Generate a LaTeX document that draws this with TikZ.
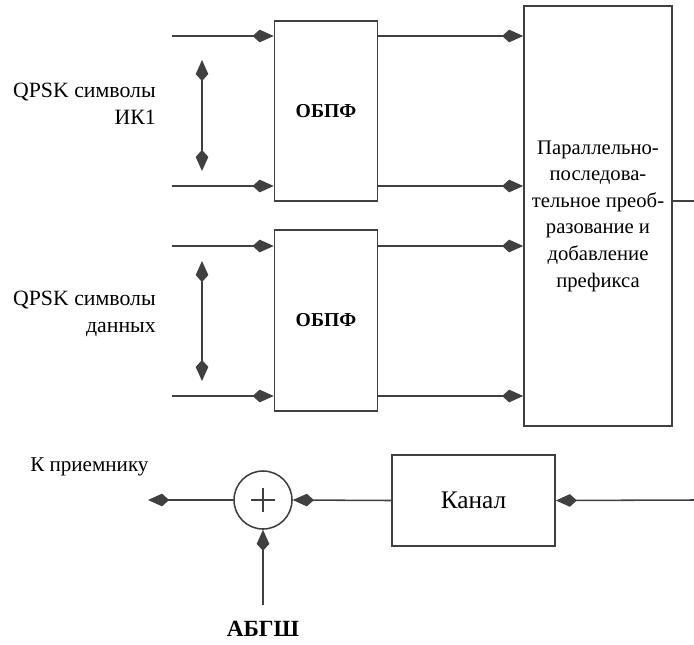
\documentclass[tikz,border=0pt]{standalone}
\usepackage{fontspec}
\setmainfont{Liberation Serif}
\usetikzlibrary{arrows.meta,calc,positioning}
\tikzset{>={Kite[length=15pt,width=9pt,inset=5pt]}}
\tikzset{blk/.style={draw=black!75, line width=1.1pt, fill=white, inner sep=0pt},
         wire/.style={draw=black!75, line width=1.1pt},
         lbl/.style={font=\fontsize{15.5}{19.5}\selectfont, inner sep=0pt}}

\begin{document}
\begin{tikzpicture}[x=0.025cm,y=-0.025cm]
            \useasboundingbox (0,0) rectangle (694,644);

            \node[blk, minimum width=2.575cm, minimum height=4.5cm, font=\fontsize{14}{17}\selectfont\bfseries] (ofdmA) at (326,111) {ОБПФ};
            \node[blk, minimum width=2.575cm, minimum height=4.525cm, font=\fontsize{14}{17}\selectfont\bfseries] (ofdmB) at (326,320.5) {ОБПФ};
            \node[blk, minimum width=3.7cm, minimum height=10.5cm, align=center, font=\fontsize{14.7}{18.9}\selectfont] (pps) at (598,216)
                {Параллельно-\\последова-\\тельное преоб-\\разование и\\добавление\\префикса};
            \node[blk, minimum width=4.075cm, minimum height=2.275cm, font=\fontsize{18}{21}\selectfont] (chan) at (473.5,500.5) {Канал};
            \node[blk, circle, minimum size=1.45cm] (sum) at (263,500) {};
            \draw[wire] (sum.center) +(-12,0) -- +(12,0) (sum.center) +(0,-12) -- +(0,12);

            % inputs
            \coordinate (a1) at (172,36);  \coordinate (a2) at (172,186);
            \coordinate (b1) at (172,246); \coordinate (b2) at (172,396);
            \draw[wire,->] (a1) -- (a1 -| ofdmA.west);
            \draw[wire,->] (a2) -- (a2 -| ofdmA.west);
            \draw[wire,->] (b1) -- (b1 -| ofdmB.west);
            \draw[wire,->] (b2) -- (b2 -| ofdmB.west);
            \coordinate (va1) at (202,60); \coordinate (va2) at (202,171);
            \coordinate (vb1) at (202,261); \coordinate (vb2) at (202,381);
            \draw[wire,<->] (va1) -- (va2);
            \draw[wire,<->] (vb1) -- (vb2);
            \node[lbl, align=right, anchor=east] (symA) at (156,104) {QPSK символы\\ИК1};
            \node[lbl, align=right, anchor=east] (symB) at (156,314) {QPSK символы\\данных};

            % to the converter
            \draw[wire,->] (ofdmA.east |- a1) -- (pps.west |- a1);
            \draw[wire,->] (ofdmA.east |- a2) -- (pps.west |- a2);
            \draw[wire,->] (ofdmB.east |- b1) -- (pps.west |- b1);
            \draw[wire,->] (ofdmB.east |- b2) -- (pps.west |- b2);
            \coordinate (out) at (694,201);
            \draw[wire] (pps.east |- out) -- (out);

            % channel and noise
            \coordinate (chin) at (694,500);
            \coordinate (rx) at (148,500);
            \coordinate (n0) at (263,605);
            \draw[wire,->] (chin) -- (chan.east);
            \draw[wire,->] (chan.west) -- (sum.east);
            \draw[wire,->] (sum.west) -- (rx);
            \draw[wire,->] (n0) -- (sum.south);
            \node[lbl, font=\fontsize{16.5}{19}\selectfont\bfseries] (awgn) at (263,629) {АБГШ};
            \node[lbl, anchor=west, font=\fontsize{15}{19}\selectfont] (rxl) at (30,467) {К приемнику};
        \end{tikzpicture}
\end{document}
